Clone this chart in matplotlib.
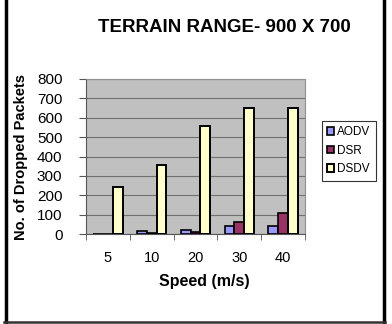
import numpy as np
import matplotlib
matplotlib.use("Agg")
import matplotlib.pyplot as plt
from matplotlib.lines import Line2D

speeds = ["5", "10", "20", "30", "40"]
aodv = [2, 14, 21, 40, 41]
dsr = [1, 3, 10, 62, 106]
dsdv = [244, 356, 559, 652, 652]

plt.rcParams["font.family"] = ["Liberation Sans", "DejaVu Sans"]

fig = plt.figure(figsize=(3.92, 3.24), dpi=100)
W, H = 392, 324
ax = fig.add_axes([86 / W, 1 - 234 / H, (305 - 86) / W, (234 - 79) / H])
ax.set_facecolor("#c0c0c0")

x = np.arange(len(speeds))
w = 0.225
ax.bar(x - w, aodv, w, color="#9999ff", edgecolor="black", linewidth=1.2, label="AODV", zorder=3)
ax.bar(x, dsr, w, color="#993366", edgecolor="black", linewidth=1.2, label="DSR", zorder=3)
ax.bar(x + w, dsdv, w, color="#ffffcc", edgecolor="black", linewidth=1.4, label="DSDV", zorder=3)

ax.set_xlim(-0.5, len(speeds) - 0.5)
ax.set_ylim(0, 800)
ax.set_yticks(range(0, 801, 100))
ax.yaxis.grid(True, color="#707070", linewidth=0.8, zorder=0)
ax.set_xticks(x)
ax.set_xticklabels(speeds, fontsize=10.5)
ax.set_xticks(np.arange(-0.5, len(speeds)), minor=True)
ax.tick_params(axis="x", which="major", length=0, pad=12)
ax.tick_params(axis="x", which="minor", length=4, color="#555555")
ax.tick_params(axis="y", length=5, labelsize=11, color="#555555", pad=12)
for s in ["top", "right"]:
    ax.spines[s].set_color("#909090")
ax.spines["left"].set_color("#555555")
ax.spines["bottom"].set_color("#555555")

ax.set_xlabel("Speed (m/s)", fontsize=11.5, fontweight="bold")
ax.xaxis.set_label_coords(0.54, -0.26)
ax.set_ylabel("No. of Dropped Packets", fontsize=10.5, fontweight="bold")
ax.yaxis.set_label_coords(-0.265, 0.5)

fig.text(224 / W, 1 - 27 / H, "TERRAIN RANGE- 900 X 700", ha="center", va="center",
         fontsize=13.5, fontweight="bold")

leg = fig.legend(loc="upper left", bbox_to_anchor=(316 / W, 1 - 115 / H), fontsize=8.5,
                 frameon=True, fancybox=False, edgecolor="black", handlelength=0.6,
                 handleheight=0.6, handletextpad=0.25, borderpad=0.45, labelspacing=0.55)
leg.get_frame().set_linewidth(0.8)

fig.add_artist(Line2D([5.5 / W, 5.5 / W], [1 - 322 / H, 1], color="black", linewidth=2.5))
fig.add_artist(Line2D([383.5 / W, 383.5 / W], [1 - 322 / H, 1], color="black", linewidth=2.5))
fig.add_artist(Line2D([4 / W, 385 / W], [1 - 322 / H, 1 - 322 / H], color="#333333", linewidth=1.8))

fig.savefig("out.png", dpi=100)
